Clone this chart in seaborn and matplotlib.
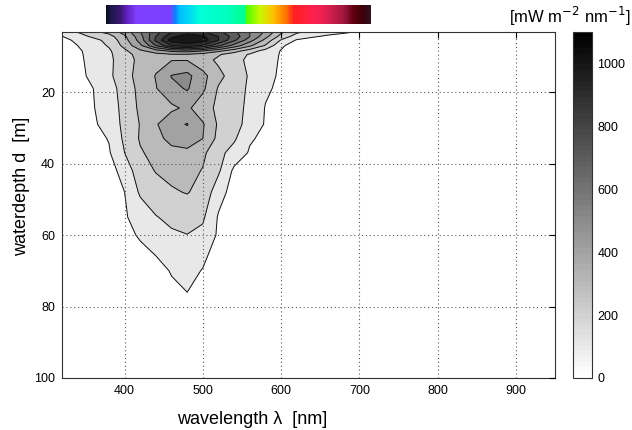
import numpy as np
import matplotlib
matplotlib.use("Agg")
import matplotlib.pyplot as plt
import seaborn as sns
from matplotlib.colors import Normalize, LinearSegmentedColormap
from matplotlib.cm import ScalarMappable

# ---------------- data ----------------
wavelengths = [320, 340, 360, 380, 400, 420, 440, 460, 480, 500, 520,
               540, 560, 580, 600, 620, 640, 660, 680, 700, 720, 950]
depths = [3.0, 4.5, 5.5, 7.0, 8.5, 9.5, 11, 15.5, 19, 24.5, 29, 33, 37, 42,
          48, 55, 60, 65, 70, 76, 85, 100]

e_d03 = [120, 210, 290, 340, 450, 600, 760, 880, 940, 900, 820, 720, 600, 490, 330, 230, 180, 150, 125, 100, 75, 15]
e_d045 = [95, 160, 215, 260, 380, 560, 800, 980, 1060, 1020, 900, 760, 600, 430, 260, 150, 110, 80, 60, 45, 30, 5]
e_d055 = [70, 120, 170, 230, 360, 540, 820, 1050, 1100, 1060, 900, 720, 540, 370, 190, 90, 60, 45, 35, 25, 20, 3]
e_d07 = [55, 100, 150, 210, 330, 480, 700, 900, 950, 880, 720, 560, 420, 290, 115, 55, 35, 25, 20, 15, 10, 2]
e_d085 = [45, 88, 130, 185, 280, 380, 450, 520, 540, 500, 420, 340, 250, 160, 95, 45, 25, 15, 10, 8, 5, 1]
e_d095 = [42, 84, 130, 182, 260, 340, 370, 390, 390, 360, 310, 250, 190, 148, 92, 42, 22, 12, 9, 6, 4, 0]
e_d11 = [40, 80, 130, 180, 250, 330, 370, 395, 395, 340, 280, 230, 180, 140, 90, 40, 20, 10, 8, 5, 3, 0]
e_d155 = [45, 82, 115, 180, 260, 340, 405, 505, 530, 430, 330, 250, 190, 130, 85, 40, 20, 10, 8, 5, 3, 0]
e_d19 = [50, 75, 100, 160, 240, 330, 395, 470, 510, 420, 290, 240, 185, 115, 80, 35, 15, 8, 5, 3, 2, 0]
e_d245 = [40, 70, 95, 150, 230, 320, 350, 380, 420, 340, 280, 230, 180, 95, 60, 30, 12, 6, 4, 2, 1, 0]
e_d29 = [35, 60, 85, 140, 225, 305, 390, 470, 505, 410, 285, 225, 175, 90, 50, 25, 10, 5, 3, 2, 1, 0]
e_d33 = [25, 45, 70, 105, 220, 310, 360, 440, 455, 400, 270, 215, 110, 80, 40, 20, 8, 4, 2, 1, 0, 0]
e_d37 = [20, 40, 60, 90, 200, 290, 330, 360, 375, 320, 230, 160, 90, 60, 30, 15, 6, 3, 2, 1, 0, 0]
e_d42 = [15, 30, 50, 60, 140, 260, 305, 325, 330, 295, 215, 80, 60, 40, 20, 10, 4, 2, 1, 0, 0, 0]
e_d48 = [10, 20, 40, 60, 100, 215, 260, 290, 305, 270, 140, 60, 40, 25, 10, 5, 2, 1, 0, 0, 0, 0]
e_d55 = [5, 15, 30, 50, 90, 140, 195, 225, 240, 215, 90, 40, 25, 15, 5, 3, 1, 0, 0, 0, 0, 0]
e_d60 = [5, 10, 20, 40, 75, 110, 150, 185, 198, 175, 85, 30, 15, 8, 3, 1, 0, 0, 0, 0, 0, 0]
e_d65 = [3, 8, 15, 30, 55, 80, 105, 140, 160, 125, 60, 20, 10, 5, 2, 1, 0, 0, 0, 0, 0, 0]
e_d70 = [2, 5, 10, 20, 35, 55, 75, 105, 130, 95, 45, 12, 6, 3, 1, 0, 0, 0, 0, 0, 0, 0]
e_d76 = [1, 3, 6, 12, 25, 40, 60, 85, 100, 80, 35, 8, 4, 2, 1, 0, 0, 0, 0, 0, 0, 0]
e_d85 = [1, 2, 4, 8, 15, 25, 35, 50, 60, 45, 20, 5, 2, 1, 0, 0, 0, 0, 0, 0, 0, 0]
e_d100 = [0, 1, 2, 4, 8, 12, 18, 25, 30, 22, 10, 3, 1, 0, 0, 0, 0, 0, 0, 0, 0, 0]

contour_levels = [100, 200, 300, 400, 500, 600, 700, 800, 900, 1000]
x_ticks = [400, 500, 600, 700, 800, 900]
y_ticks = [20, 40, 60, 80, 100]
cbar_ticks = [0, 200, 400, 600, 800, 1000]

# visible-spectrum strip shown above the plot
strip_nm = [376.5, 383, 393.6, 402, 415, 457.7, 464, 470.5, 485, 496, 530,
            553.6, 555.8, 573, 590, 607, 616, 641.6, 658.6, 680, 693, 703.6, 714]
strip_colors = ["#0a1020", "#201850", "#3a1870", "#6020c0", "#8040ff", "#7a40ff",
                "#1080ff", "#00c0ff", "#00e0f0", "#00ffd8", "#00ffc0", "#00ff90",
                "#50ff00", "#c8f800", "#ffc000", "#ff7000", "#ff2020", "#ff2050",
                "#e02050", "#a01840", "#600010", "#400008", "#301020"]

# ---------------- figure ----------------
sns.set_theme(style="white")
plt.rcParams["font.family"] = ["Liberation Sans", "DejaVu Sans"]

Z = np.array([e_d03, e_d045, e_d055, e_d07, e_d085, e_d095, e_d11, e_d155,
              e_d19, e_d245, e_d29, e_d33, e_d37, e_d42, e_d48, e_d55,
              e_d60, e_d65, e_d70, e_d76, e_d85, e_d100], dtype=float)

W, H = 632, 430
fig = plt.figure(figsize=(W / 100, H / 100), dpi=100)
fig.patch.set_facecolor("white")
ax = fig.add_axes([62 / W, 52 / H, 493 / W, 346 / H])
ax.set_facecolor("white")

fill_levels = contour_levels + [1400]
fill_norm = Normalize(0, 1100)
gray = plt.get_cmap("gray_r")
fill_colors = [gray(fill_norm(l)) for l in fill_levels[:-1]]
ax.contourf(wavelengths, depths, Z, levels=fill_levels, colors=fill_colors, zorder=1)
ax.contour(wavelengths, depths, Z, levels=contour_levels, colors="#111111",
           linewidths=0.7, zorder=2)

ax.set_xlim(320, 950)
ax.set_ylim(100, 3.2)
ax.set_xticks(x_ticks)
ax.set_yticks(y_ticks)
ax.set_axisbelow(False)
ax.grid(True, linestyle=(0, (1, 2.5)), color="0.35", linewidth=0.8)
ax.tick_params(direction="in", length=4, width=0.8, top=True, right=True,
               labelsize=9, colors="black", pad=5)
for s in ax.spines.values():
    s.set_color("#333333")
    s.set_linewidth(0.8)

ax.set_xlabel("wavelength λ  [nm]", fontsize=13, color="black")
ax.xaxis.set_label_coords((252 - 62) / 493, -0.095)
ax.set_ylabel("waterdepth d  [m]", fontsize=13, color="black")
ax.yaxis.set_label_coords((30 - 62) / 493, 0.555)

# colorbar
cax = fig.add_axes([573 / W, 52 / H, 19 / W, 346 / H])
sm = ScalarMappable(norm=Normalize(0, 1100), cmap=plt.get_cmap("gray_r", 64))
cb = fig.colorbar(sm, cax=cax, ticks=cbar_ticks)
cb.outline.set_edgecolor("#333333")
cb.outline.set_linewidth(0.8)
cax.tick_params(direction="in", length=3, width=0.8, labelsize=9, colors="black", pad=4)
fig.text(630 / W, 1 - 16 / H, r"[mW m$^{-2}$ nm$^{-1}$]", ha="right", va="center",
         fontsize=12, color="black")

# spectrum strip
lo, hi = strip_nm[0], strip_nm[-1]
pos = [(v - lo) / (hi - lo) for v in strip_nm]
spec_cmap = LinearSegmentedColormap.from_list("spec", list(zip(pos, strip_colors)))
sax = ax.inset_axes([lo, 1.023, hi - lo, 0.055], transform=ax.get_xaxis_transform())
sax.imshow(np.linspace(0, 1, 300)[None, :], aspect="auto", cmap=spec_cmap)
sax.set_axis_off()

fig.savefig("out.png", dpi=100, facecolor="white")
